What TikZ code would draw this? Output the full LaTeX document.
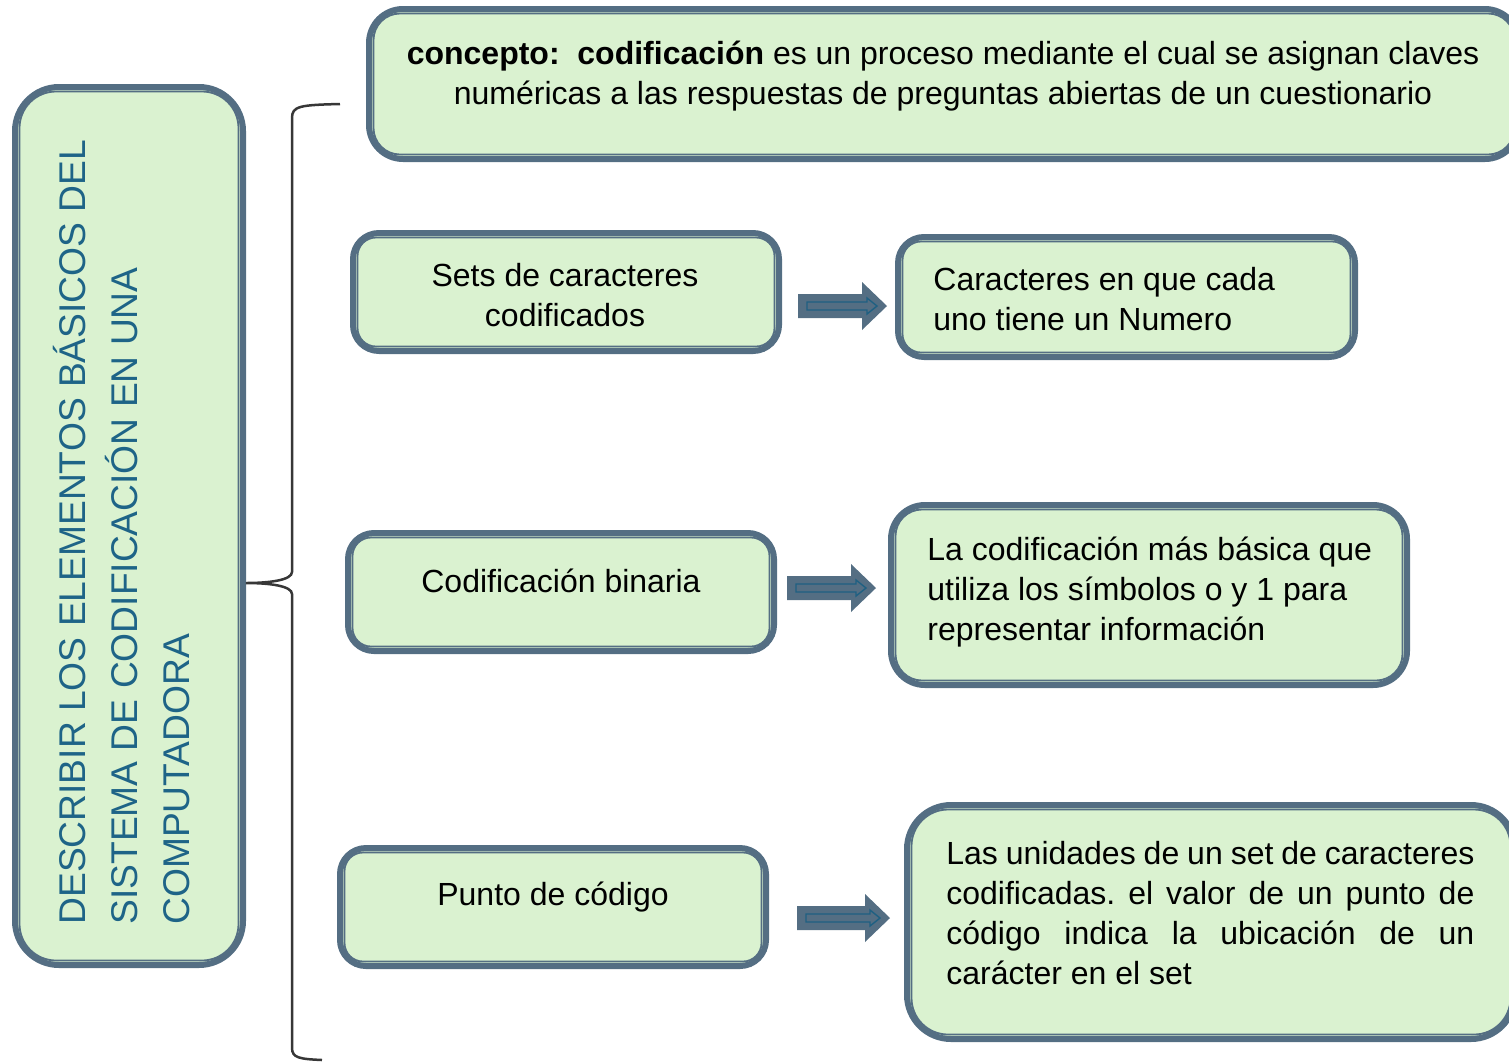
\documentclass[tikz,border=0pt]{standalone}
\usepackage{fontspec}
\setmainfont{Liberation Sans}
\usetikzlibrary{calc}
\definecolor{slate}{RGB}{84,110,131}
\definecolor{boxfill}{RGB}{218,242,208}
\definecolor{tealline}{RGB}{31,96,130}
\definecolor{lefttxt}{RGB}{30,100,135}
\definecolor{bracec}{RGB}{55,55,55}
\newcommand\dbox[6]{%
 \pgfmathsetmacro\dbw{(#4-#2-6)*0.5}%
 \pgfmathsetmacro\dbh{(#5-#3-6)*0.5}%
 \pgfmathsetmacro\dbr{#6*0.5}%
 \pgfmathsetmacro\dbri{(#6-7.5)*0.5}%
 \pgfmathsetmacro\dbx{(#2+#4)/2}%
 \pgfmathsetmacro\dby{(#3+#5)/2}%
 \node[box, rounded corners=\dbr pt, minimum width=\dbw pt, minimum height=\dbh pt] (#1) at (\dbx,\dby) {};
 \draw[innerline, rounded corners=\dbri pt] ($(#1.south west)+(7.5,-7.5)$) rectangle ($(#1.north east)+(-7.5,7.5)$);}
\newcommand\barrow[3]{%
 \fill[slate] (#1,#2) ++(0,-12) -- ++({#3-25},0) -- ++(0,-12) -- ++(25,24) -- ++(-25,24) -- ++(0,-12) -- ++({-(#3-25)},0) -- cycle;
 \draw[tealline, line width=0.7pt] ({#1+9},{#2-4}) -- ({#1+#3-20},{#2-4}) -- ++(0,-4) -- ({#1+#3-10},#2) -- ({#1+#3-20},{#2+8}) -- ++(0,-4) -- ({#1+9},{#2+4}) -- cycle;}
\tikzset{
 box/.style={shape=rectangle, draw=slate, line width=3pt, fill=boxfill, inner sep=0pt},
 innerline/.style={draw=slate, line width=0.9pt},
 txt/.style={font=\fontsize{16}{20}\selectfont, inner sep=0pt},
 lefttext/.style={font=\fontsize{18.6}{26}\selectfont, text=lefttxt, inner sep=0pt},
 brace/.style={draw=bracec, line width=1.25pt}
}
\frenchspacing
\begin{document}
\begin{tikzpicture}[x=0.5pt, y=-0.5pt]
\useasboundingbox (0,0) rectangle (1509,1061);
\clip (0,0) rectangle (1509,1061);
\dbox{left}{12}{84}{246}{968}{44}
\dbox{concept}{366}{6}{1522}{162}{34}
\dbox{sets}{350}{230}{782}{354}{26}
\dbox{carac}{895}{234}{1358}{360}{26}
\dbox{binaria}{345}{530}{777}{654}{26}
\dbox{basica}{888}{502}{1410}{688}{34}
\dbox{punto}{337}{845}{769}{969}{26}
\dbox{unidades}{904}{802}{1518}{1042}{44}
% brace
\coordinate (brtop) at (340,104);
\coordinate (brtip) at (246,583);
\coordinate (brbot) at (322,1060);
\draw[brace] (brtop) .. controls (300,105) and (292,106) .. (292,118) -- (292,572) .. controls (292,580) and (270,583) .. (brtip) .. controls (270,583) and (292,586) .. (292,594) -- (292,1048) .. controls (292,1058) and (300,1059) .. (brbot);
% arrows
\barrow{798}{306}{89}
\barrow{787}{588}{89}
\barrow{797}{918}{93}
% texts
\node[lefttext, rotate=90, anchor=north west, align=left] (tleft) at (53,925) {DESCRIBIR LOS ELEMENTOS BÁSICOS DEL\\SISTEMA DE CODIFICACIÓN EN UNA\\COMPUTADORA};
\node[txt, align=center] (tconcept) at (943,76) {\textbf{concepto:\ \ codificación} es un proceso mediante el cual se asignan claves\\numéricas a las respuestas de preguntas abiertas de un cuestionario};
\node[txt, align=center] (tsets) at (565,295) {Sets de caracteres\\codificados};
\node[txt, align=left, anchor=west] (tcarac) at (933,299) {Caracteres en que cada\\uno tiene un Numero};
\node[txt] (tbin) at (561,581) {Codificación binaria};
\node[txt, align=left, anchor=west] (tbas) at (927,592) {La codificación más básica que\\utiliza los símbolos o y 1 para\\representar información};
\node[txt] (tpunto) at (553,897) {Punto de código};
\node[txt, align=left, anchor=west] (tuni) at (946,913) {\makebox[264pt][s]{Las unidades de un set de caracteres}\\\makebox[264pt][s]{codificadas. el valor de un punto de}\\\makebox[264pt][s]{código indica la ubicación de un}\\carácter en el set};
\end{tikzpicture}
\end{document}
